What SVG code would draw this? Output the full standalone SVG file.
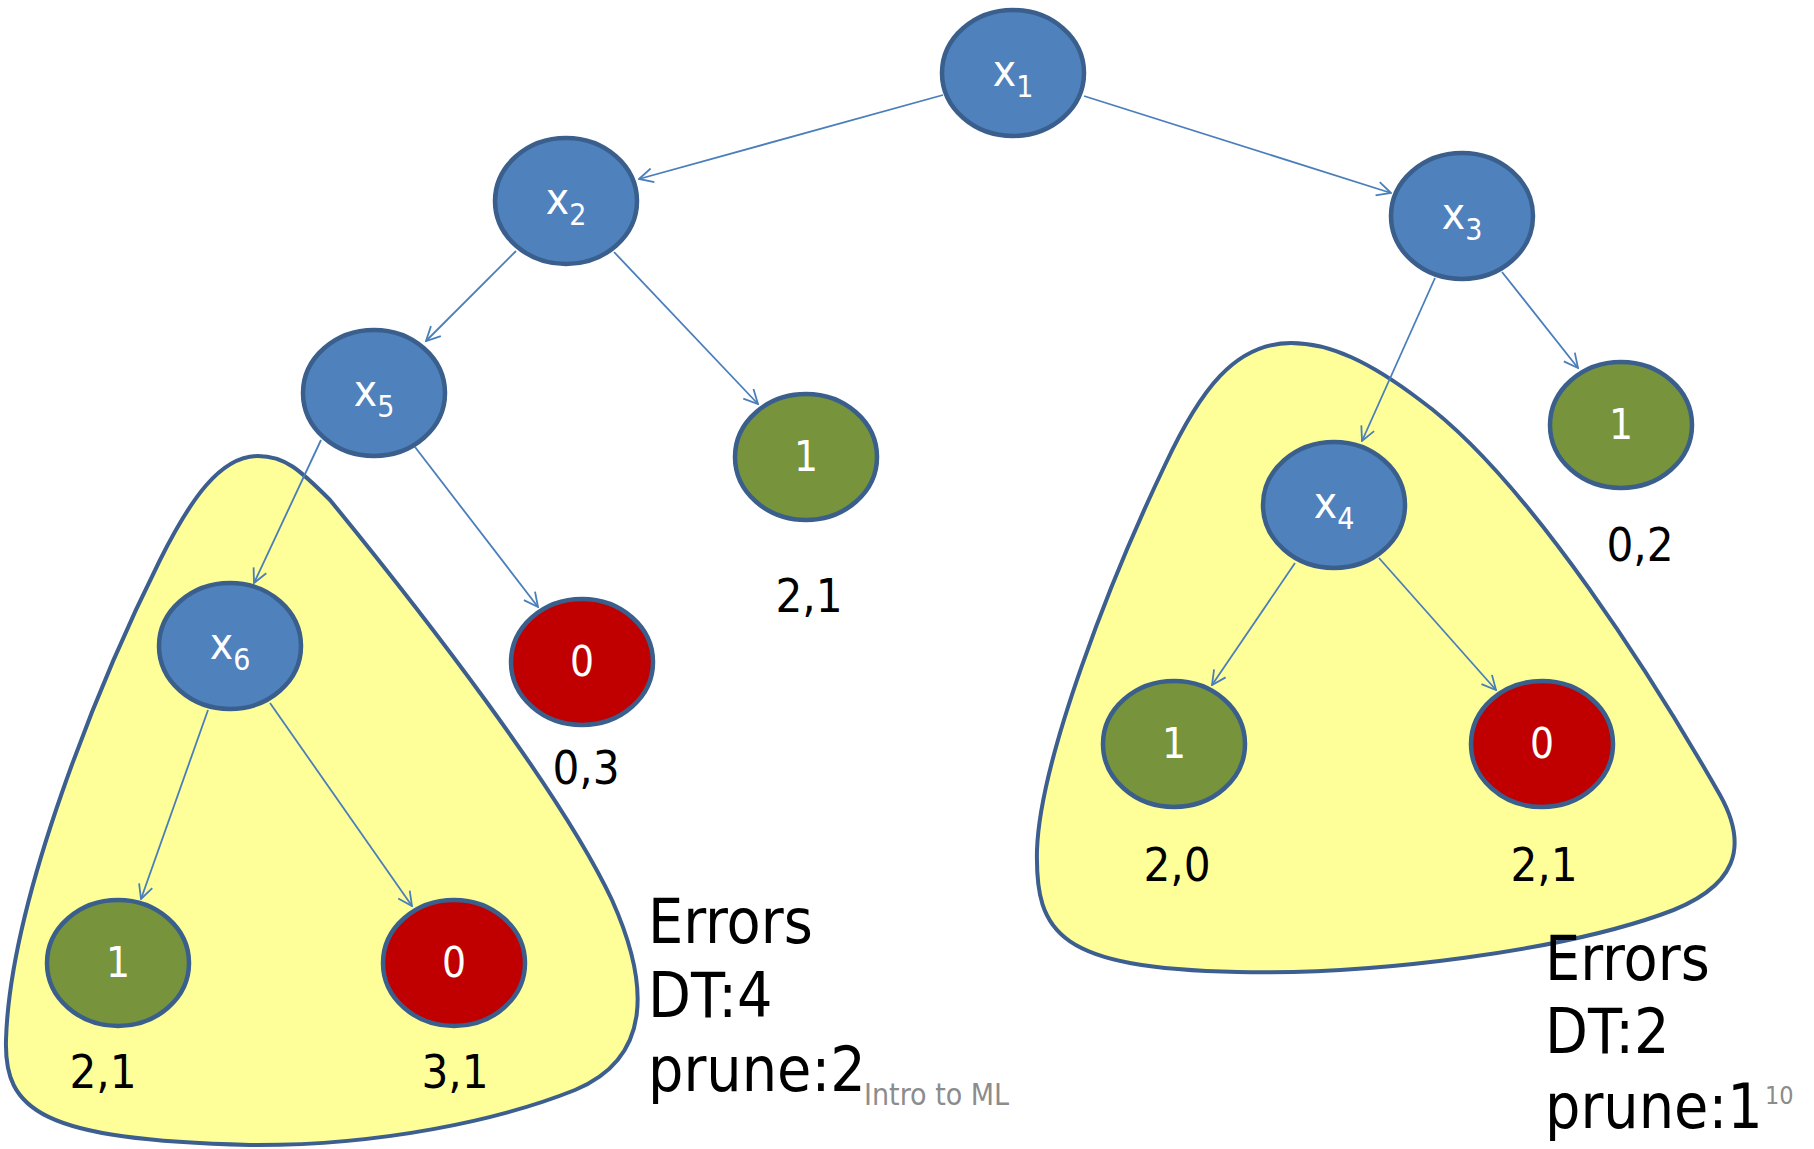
<svg xmlns="http://www.w3.org/2000/svg" width="1814" height="1149" viewBox="0 0 1814 1149">
<style>
.blob{fill:#ffff99;stroke:#3c5f8f;stroke-width:4}
.n{stroke:#3a5f8c;stroke-width:4.5}
.dec{fill:#4f81bd}
.one{fill:#77933c}
.zero{fill:#c00000}
.lbl{font-family:"DejaVu Sans Condensed","DejaVu Sans",sans-serif;fill:#ffffff;text-anchor:middle}
.cnt{font-family:"DejaVu Sans Condensed","DejaVu Sans",sans-serif;fill:#000000;font-size:47px;text-anchor:middle}
.err{font-family:"DejaVu Sans Condensed","DejaVu Sans",sans-serif;fill:#000000;font-size:62px}
.foot{font-family:"DejaVu Sans Condensed","DejaVu Sans",sans-serif;fill:#8c8c8c}
.e{stroke:#4a7ebb;stroke-width:1.8;fill:none;marker-end:url(#arr)}
</style>
<defs>
<marker id="arr" viewBox="0 0 16 16" refX="15" refY="8" markerWidth="16" markerHeight="16" markerUnits="userSpaceOnUse" orient="auto">
<path d="M1,1 L15,8 L1,15" fill="none" stroke="#4a7ebb" stroke-width="1.8"/>
</marker>
</defs>
<rect width="1814" height="1149" fill="#ffffff"/>
<g id="blob-left">
<path class="blob" d="M258 456 C220 456 190 500 160 560 C100 680 10 900 6 1040 C4 1110 40 1140 250 1145 C380 1146 500 1120 575 1090 C652 1058 650 985 612 900 C560 790 420 610 330 500 C300 470 285 456 258 456 Z"/>
</g>
<g id="blob-right">
<path class="blob" d="M1291 343 C1235 343 1200 390 1165 465 C1110 580 1040 760 1037 850 C1035 935 1060 968 1238 972 C1380 975 1560 950 1660 915 C1740 888 1748 845 1720 795 C1660 690 1530 480 1420 400 C1370 362 1330 343 1291 343 Z"/>
</g>
<g id="connectors">
<line class="e" x1="943" y1="95" x2="639" y2="179"/>
<line class="e" x1="1084" y1="96" x2="1391" y2="193"/>
<line class="e" x1="516" y1="251" x2="426" y2="341"/>
<line class="e" x1="614" y1="252" x2="758" y2="404"/>
<line class="e" x1="321" y1="440" x2="254" y2="583"/>
<line class="e" x1="415" y1="447" x2="538" y2="607"/>
<line class="e" x1="208" y1="710" x2="141" y2="899"/>
<line class="e" x1="270" y1="703" x2="412" y2="906"/>
<line class="e" x1="1435" y1="278" x2="1362" y2="441"/>
<line class="e" x1="1502" y1="272" x2="1578" y2="368"/>
<line class="e" x1="1295" y1="563" x2="1212" y2="685"/>
<line class="e" x1="1379" y1="558" x2="1496" y2="690"/>
</g>
<g id="x1">
<ellipse class="n dec" cx="1013" cy="73" rx="71" ry="63"/>
<text class="lbl" x="1013" y="86" font-size="44">x<tspan font-size="30" dy="11">1</tspan></text>
</g>
<g id="x2">
<ellipse class="n dec" cx="566" cy="201" rx="71" ry="63"/>
<text class="lbl" x="566" y="214" font-size="44">x<tspan font-size="30" dy="11">2</tspan></text>
</g>
<g id="x3">
<ellipse class="n dec" cx="1462" cy="216" rx="71" ry="63"/>
<text class="lbl" x="1462" y="229" font-size="44">x<tspan font-size="30" dy="11">3</tspan></text>
</g>
<g id="x5">
<ellipse class="n dec" cx="374" cy="393" rx="71" ry="63"/>
<text class="lbl" x="374" y="406" font-size="44">x<tspan font-size="30" dy="11">5</tspan></text>
</g>
<g id="leaf-x2-right">
<ellipse class="n one" cx="806" cy="457" rx="71" ry="63"/>
<text class="lbl" x="806" y="471" font-size="42">1</text>
<text class="cnt" x="809" y="612">2,1</text>
</g>
<g id="leaf-x5-right">
<ellipse class="n zero" cx="582" cy="662" rx="71" ry="63"/>
<text class="lbl" x="582" y="676" font-size="42">0</text>
<text class="cnt" x="586" y="784">0,3</text>
</g>
<g id="x6">
<ellipse class="n dec" cx="230" cy="646" rx="71" ry="63"/>
<text class="lbl" x="230" y="659" font-size="44">x<tspan font-size="30" dy="11">6</tspan></text>
</g>
<g id="leaf-x6-left">
<ellipse class="n one" cx="118" cy="963" rx="71" ry="63"/>
<text class="lbl" x="118" y="977" font-size="42">1</text>
<text class="cnt" x="103" y="1088">2,1</text>
</g>
<g id="leaf-x6-right">
<ellipse class="n zero" cx="454" cy="963" rx="71" ry="63"/>
<text class="lbl" x="454" y="977" font-size="42">0</text>
<text class="cnt" x="455" y="1088">3,1</text>
</g>
<g id="x4">
<ellipse class="n dec" cx="1334" cy="505" rx="71" ry="63"/>
<text class="lbl" x="1334" y="518" font-size="44">x<tspan font-size="30" dy="11">4</tspan></text>
</g>
<g id="leaf-x3-right">
<ellipse class="n one" cx="1621" cy="425" rx="71" ry="63"/>
<text class="lbl" x="1621" y="439" font-size="42">1</text>
<text class="cnt" x="1640" y="561">0,2</text>
</g>
<g id="leaf-x4-left">
<ellipse class="n one" cx="1174" cy="744" rx="71" ry="63"/>
<text class="lbl" x="1174" y="758" font-size="42">1</text>
<text class="cnt" x="1177" y="881">2,0</text>
</g>
<g id="leaf-x4-right">
<ellipse class="n zero" cx="1542" cy="744" rx="71" ry="63"/>
<text class="lbl" x="1542" y="758" font-size="42">0</text>
<text class="cnt" x="1544" y="881">2,1</text>
</g>
<g id="errors-left">
<text class="err" x="648" y="943">Errors</text>
<text class="err" x="648" y="1017">DT:4</text>
<text class="err" x="648" y="1091">prune:2</text>
</g>
<g id="errors-right">
<text class="err" x="1545" y="980">Errors</text>
<text class="err" x="1545" y="1053">DT:2</text>
<text class="err" x="1545" y="1128">prune:1</text>
</g>
<g id="footer">
<text class="foot" x="864" y="1105" font-size="30">Intro to ML</text>
<text class="foot" x="1765" y="1104" font-size="25">10</text>
</g>
</svg>
